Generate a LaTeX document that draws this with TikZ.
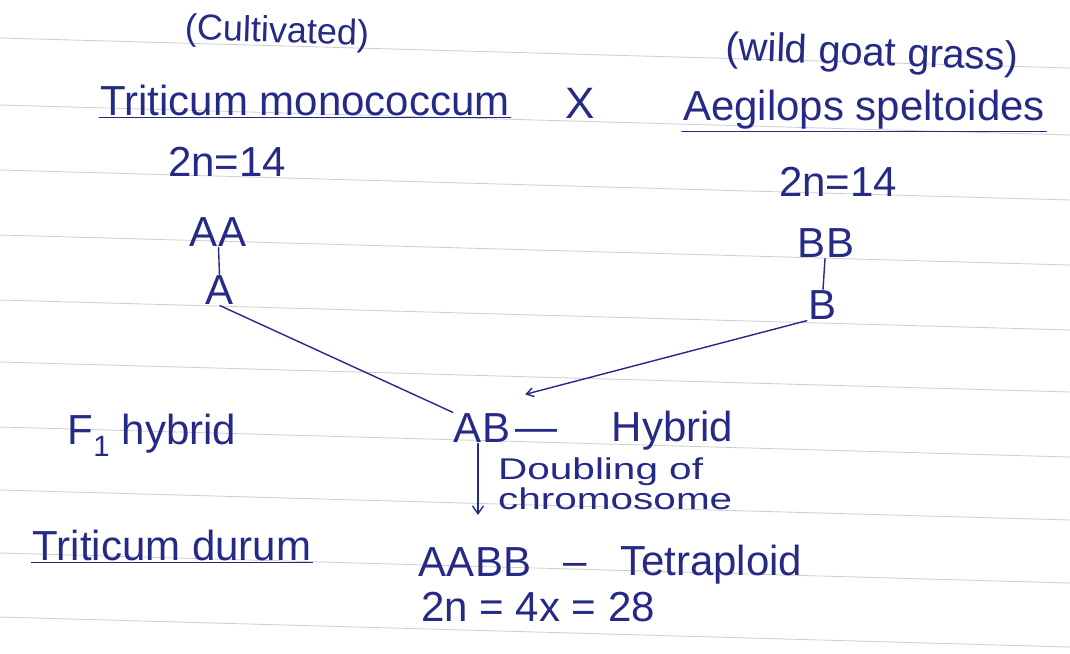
\documentclass[tikz,border=0pt]{standalone}
\usepackage{fontspec}
\setmainfont{Liberation Sans}
\usetikzlibrary{arrows.meta}
\definecolor{ink}{RGB}{38,42,135}
\definecolor{rulecol}{RGB}{205,205,205}
\begin{document}
\begin{tikzpicture}[x=1pt,y=-1pt,
 hw/.style={text=ink, inner sep=1pt, font=\fontsize{42}{46}\selectfont},
 big/.style={hw, font=\fontsize{44}{48}\selectfont},
 small/.style={hw, font=\fontsize{36}{40}\selectfont},
 note/.style={hw, inner sep=0pt, font=\fontsize{30}{30}\selectfont},
 inkline/.style={draw=ink, line width=1.4pt, line cap=round},
 ruled/.style={draw=rulecol, line width=0.8pt}]
\fill[white] (0,0) rectangle (1070,653);
\useasboundingbox (0,0) rectangle (1070,653);
\foreach \y in {38,105,170,235,300,362,427,490,553,617} \draw[ruled] (0,\y) -- (1070,\y+30);

\node[small, rotate=-2] (cult) at (277,33) {(Cultivated)};
\node[small, rotate=-2, font=\fontsize{40}{44}\selectfont] (wild) at (872,55) {(wild goat grass)};
\node[hw] (tm) at (305,100) {Triticum monococcum};
\node[big] (cross) at (580,103) {X};
\node[hw] (aeg) at (864,110) {Aegilops speltoides};
\node[hw] (tmn) at (227,162) {2n=14};
\node[hw] (aegn) at (838,182) {2n=14};
\node[hw] (AA) at (218,232) {AA};
\node[hw] (A) at (220,290) {A};
\node[hw] (BB) at (826,243) {BB};
\node[hw] (B) at (822,305) {B};
\node[hw] (f1) at (152,435) {F\textsubscript{1} hybrid};
\node[hw] (AB) at (482,428) {AB};
\node[hw, anchor=west] (hyb) at (514,431) {—\hspace{1.3em}Hybrid};
\node[note, anchor=north west, align=left] (dbl) at (498,458) {\scalebox{1.35}[1]{Doubling of}\\\scalebox{1.35}[1]{chromosome}};
\node[hw] (td) at (172,545) {Triticum durum};
\node[hw] (AABB) at (475,562) {AABB};
\node[hw, anchor=west] (tetra) at (562,565) {–\hspace{0.8em}Tetraploid};
\node[hw] (count) at (538,607) {2n = 4x = 28};

\draw[inkline] ([yshift=-1pt]tm.south west) -- ([yshift=-1pt]tm.south east);
\draw[inkline] ([yshift=-1pt]aeg.south west) -- ([yshift=-1pt]aeg.south east);
\draw[inkline] ([yshift=-1pt]td.south west) -- ([yshift=-1pt]td.south east);

\draw[inkline] (AA) -- (A);
\draw[inkline] (BB) -- (B);
\draw[inkline] (A.south) -- (AB.north west);
\draw[inkline, -{Straight Barb[length=7pt,width=9pt]}] (B.south west) -- ([xshift=14pt,yshift=18pt]AB.north east);
\coordinate (dblend) at (478,515);
\draw[inkline, -{Straight Barb[length=8pt,width=11pt]}] (AB.south -| dblend) -- (dblend);
\end{tikzpicture}
\end{document}
